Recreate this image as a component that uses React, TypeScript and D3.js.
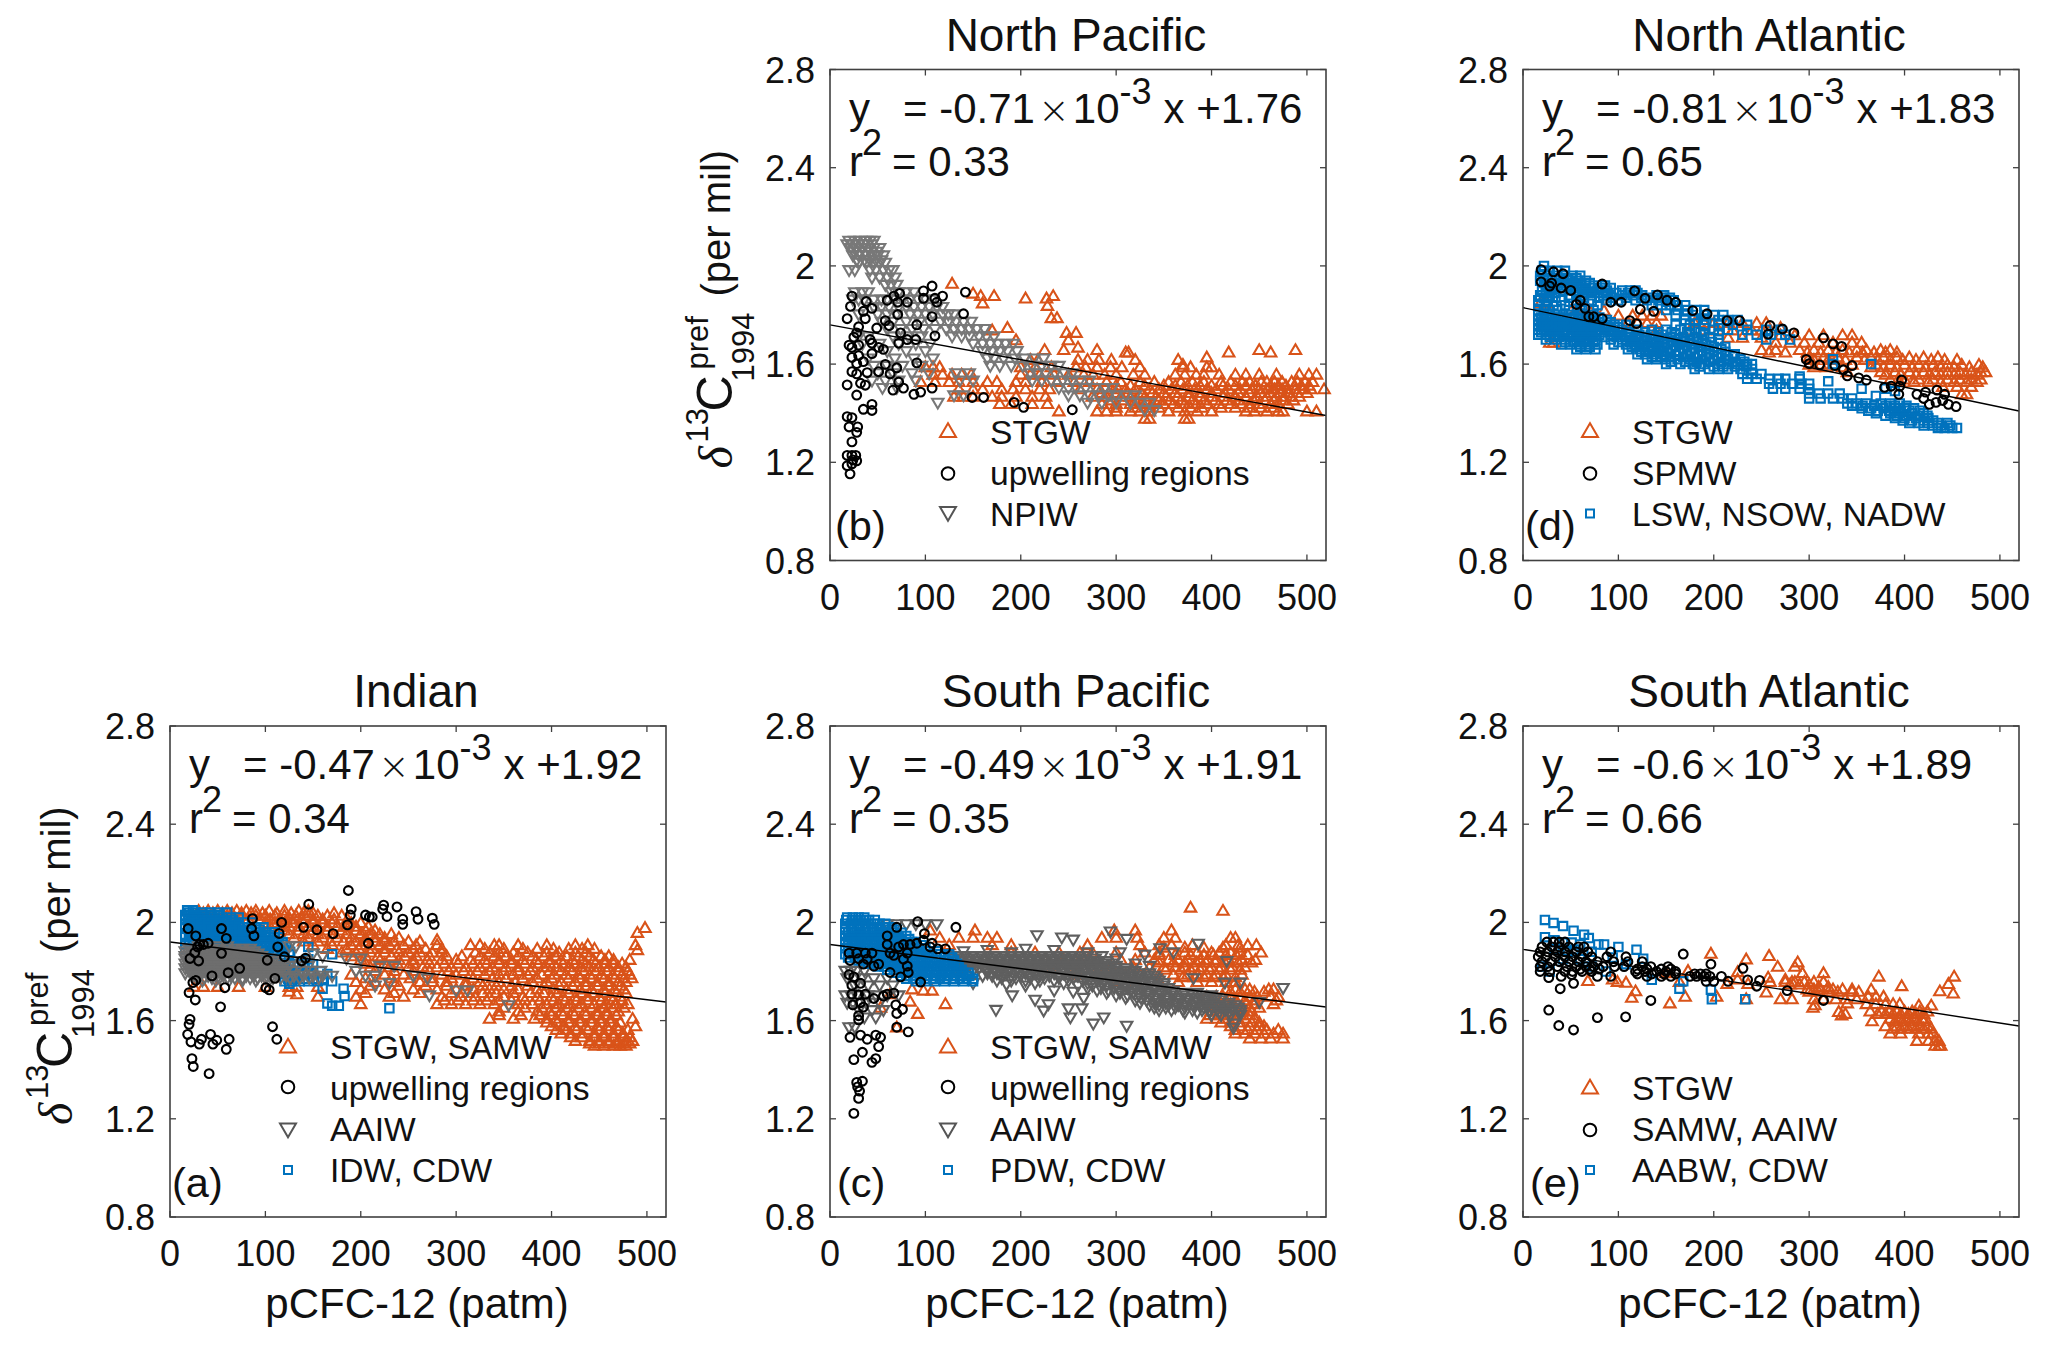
import React from "react";
import * as d3 from "d3";

type Row = [number, number[]];
type Pt = [number, number];

const xTicks = [0, 100, 200, 300, 400, 500];
const yTicks = [0.8, 1.2, 1.6, 2, 2.4, 2.8];

// ---------- (a) Indian ----------
const aStgwRows: Row[] = [
  [2.05, [30, 40, 50, 60, 70, 80, 90, 104, 120, 135, 145]],
  [2.04, [35, 45, 55, 65, 75, 85, 97, 112, 127, 140, 150, 172]],
  [2.03, [60, 75, 90, 100, 110, 120, 132, 145, 155, 165, 180]],
  [2.015, [70, 82, 95, 105, 115, 126, 138, 150, 160, 172, 186]],
  [2.0, [100, 110, 120, 130, 140, 150, 160, 170, 190, 200]],
  [1.985, [105, 115, 125, 135, 145, 155, 165, 175, 185, 195, 208]],
  [1.97, [120, 135, 150, 165, 180, 195, 205, 215]],
  [1.955, [125, 140, 155, 170, 185, 200, 210, 220, 232]],
  [1.94, [130, 145, 160, 175, 190, 205, 215, 225, 240]],
  [1.925, [140, 155, 168, 182, 195, 205, 215, 225, 235, 250, 262]],
  [1.91, [150, 170, 190, 200, 210, 220, 230, 245, 258, 280, 315, 325, 340, 345, 365, 395, 425, 438]],
  [1.895, [165, 185, 198, 212, 225, 238, 255, 268, 285, 330, 350, 370, 385, 402, 418, 432, 445]],
  [1.88, [180, 195, 210, 225, 240, 250, 262, 275, 285, 320, 335, 345, 360, 375, 395, 408, 425, 436]],
  [1.865, [190, 205, 218, 232, 246, 258, 272, 290, 306, 325, 340, 352, 365, 380, 392, 404, 416, 428, 440, 452, 460]],
  [1.85, [200, 220, 240, 255, 270, 285, 300, 315, 330, 345, 358, 370, 384, 398, 410, 422, 432, 444, 456, 465]],
  [1.835, [205, 225, 238, 255, 272, 288, 302, 318, 332, 345, 358, 372, 386, 398, 412, 424, 436, 446, 456, 465, 474]],
  [1.82, [210, 230, 250, 265, 280, 295, 310, 325, 338, 352, 365, 380, 392, 405, 418, 430, 440, 450, 460, 470, 478]],
  [1.805, [215, 235, 255, 272, 292, 308, 322, 335, 350, 365, 378, 398, 410, 422, 434, 446, 458, 470, 480]],
  [1.79, [190, 225, 245, 265, 285, 300, 315, 330, 345, 360, 375, 390, 403, 415, 428, 440, 452, 464, 474, 482]],
  [1.775, [205, 232, 252, 275, 295, 318, 338, 352, 370, 385, 400, 418, 430, 442, 455, 466, 476, 484]],
  [1.76, [195, 215, 235, 262, 275, 290, 310, 325, 345, 362, 380, 395, 410, 425, 436, 448, 460, 470, 478]],
  [1.745, [210, 240, 268, 290, 310, 328, 342, 358, 375, 392, 408, 422, 436, 448, 460, 472]],
  [1.74, [25, 35, 50, 72, 100, 125, 133, 155]],
  [1.73, [200, 225, 255, 280, 300, 318, 335, 350, 365, 385, 402, 416, 430, 442, 455, 466, 476]],
  [1.715, [205, 235, 262, 295, 312, 328, 342, 360, 378, 392, 406, 418, 432, 444, 456, 468, 478]],
  [1.7, [195, 230, 245, 285, 305, 320, 335, 350, 370, 385, 400, 412, 425, 438, 450, 462, 472]],
  [1.685, [288, 302, 318, 332, 345, 358, 372, 388, 402, 414, 426, 438, 452, 464, 474]],
  [1.67, [200, 280, 295, 310, 325, 340, 365, 380, 395, 408, 420, 432, 445, 458, 468, 480]],
  [1.655, [350, 372, 390, 404, 416, 428, 442, 454, 464, 476]],
  [1.64, [345, 365, 385, 398, 410, 422, 435, 448, 458, 470]],
  [1.625, [345, 368, 388, 400, 412, 424, 436, 448, 458, 468]],
  [1.61, [335, 360, 382, 395, 405, 418, 430, 442, 452, 462, 485]],
  [1.595, [395, 406, 418, 430, 442, 452, 462, 472]],
  [1.58, [400, 412, 425, 436, 448, 458, 468, 488]],
  [1.565, [405, 416, 426, 438, 450, 460, 470, 480]],
  [1.55, [410, 420, 432, 445, 455, 465, 475]],
  [1.535, [420, 432, 445, 455, 465, 475, 482]],
  [1.52, [425, 440, 450, 460, 470, 478, 485]],
  [1.51, [440, 450, 460, 468, 476, 482]],
  [1.5, [445, 455, 465, 472, 478]],
];
const aStgwPts: Pt[] = [[280, 1.93], [498, 1.98], [490, 1.96], [488, 1.91], [490, 1.89], [482, 1.85], [125, 1.72], [133, 1.71], [155, 1.7]];
const aDeepRows: Row[] = [
  [2.05, [18, 24]],
  [2.04, [20, 26, 34, 42, 50, 60]],
  [2.03, [16, 22, 28, 36, 44, 52]],
  [2.02, [19, 25, 31, 39, 47, 55, 64, 72]],
  [2.01, [16, 22, 28, 34, 40, 46, 52, 58, 66]],
  [2.0, [19, 28, 36, 44, 52, 60, 68, 78, 86]],
  [1.99, [16, 24, 32, 40, 48, 56, 64, 72]],
  [1.98, [16, 24, 32, 40, 48, 56, 64, 72, 82, 90, 98]],
  [1.97, [20, 28, 36, 44, 52, 60, 68, 76, 86, 94]],
  [1.96, [20, 28, 36, 44, 52, 60, 68, 76, 84, 92, 100, 110]],
  [1.95, [16, 24, 32, 40, 48, 56, 64, 72, 80, 88, 96, 104]],
  [1.94, [16, 24, 32, 40, 48, 56, 64, 72, 80, 88, 96, 104, 114]],
  [1.93, [20, 28, 36, 44, 52, 60, 68, 76, 84, 92, 100, 108]],
  [1.92, [20, 28, 36, 44, 52, 60, 68, 76, 84, 92, 100, 108, 118]],
  [1.91, [16, 24, 32, 40, 48, 56, 64, 72, 80, 88, 96, 104, 112, 118]],
  [1.9, [40, 48, 56, 64, 72, 80, 88, 96, 104, 112, 122]],
  [1.89, [16, 24, 32, 64, 72, 80, 88, 96, 104, 112, 120]],
  [1.88, [76, 84, 92, 100, 108, 116, 126]],
  [1.87, [60, 70, 80, 90, 100, 110, 118, 125]],
  [1.85, [70, 80, 90, 100, 110, 120]],
  [1.83, [120, 130, 140, 150]],
  [1.82, [115, 125, 135, 145]],
  [1.8, [125, 135, 148, 158]],
  [1.79, [120, 130, 140, 150, 165]],
  [1.77, [124, 132, 140, 150, 160]],
  [1.76, [120, 128, 136, 145, 155, 170]],
];
const aDeepPts: Pt[] = [[160, 1.73], [165, 1.67], [170, 1.66], [177, 1.66], [183, 1.7], [182, 1.73], [230, 1.65], [170, 1.87], [145, 1.9], [145, 1.85], [130, 1.78], [125, 1.75]];
const aAaiwRows: Row[] = [
  [1.9, [30, 40, 50, 60, 125, 132]],
  [1.89, [20, 28, 36, 44, 52, 60, 68, 76, 84]],
  [1.88, [16, 24, 32, 40, 48, 56, 64, 72, 80, 88]],
  [1.87, [20, 28, 36, 44, 52, 60, 68, 76, 84, 92]],
  [1.86, [16, 24, 32, 40, 48, 56, 64, 72, 80, 88, 96]],
  [1.85, [16, 24, 32, 40, 48, 56, 64, 72, 80, 88, 96, 104]],
  [1.84, [20, 28, 36, 44, 52, 60, 68, 76, 84, 92, 100, 108, 128, 138]],
  [1.83, [16, 24, 32, 40, 48, 56, 64, 72, 80, 88, 96, 104, 112]],
  [1.82, [20, 28, 36, 44, 52, 60, 68, 76, 84, 92, 100, 108, 116, 125, 135, 145]],
  [1.81, [16, 24, 32, 40, 48, 56, 64, 72, 80, 88, 96, 104, 112, 118]],
  [1.8, [20, 28, 36, 44, 52, 60, 68, 76, 84, 92, 100, 108, 116, 120, 128, 138, 148, 158]],
  [1.79, [16, 24, 32, 40, 48, 56, 64, 72, 80, 88, 96, 104, 112, 120]],
  [1.78, [24, 32, 40, 48, 56, 64, 72, 80, 88, 96, 104, 112, 122, 130, 140, 150, 160, 170]],
  [1.77, [28, 36, 44, 52, 60, 68, 76, 84, 92, 100, 108, 116, 126, 136, 146, 156]],
  [1.76, [34, 48, 62, 76, 90, 104]],
];
const aAaiwPts: Pt[] = [[150, 1.87], [160, 1.86], [185, 1.85], [200, 1.85], [195, 1.8], [205, 1.78], [215, 1.78], [220, 1.82], [235, 1.82], [230, 1.75], [215, 1.74], [255, 1.78], [270, 1.77], [272, 1.7], [300, 1.72], [312, 1.72], [355, 1.66]];
const aUpwellPts: Pt[] = [[19, 1.975], [27, 1.945], [54, 1.975], [59, 1.935], [86.5, 2.015], [85.5, 1.975], [88, 1.945], [117, 2], [114.5, 1.955], [113, 1.9], [120, 1.86], [102, 1.846], [140, 1.98], [154, 1.97], [171, 1.954], [186, 1.99], [208, 1.915], [138, 1.843], [142, 1.854], [145.5, 2.074], [187, 2.13], [190, 2.054], [189, 2.03], [205, 2.03], [209, 2.022], [212, 2.022], [224, 2.07], [223, 2.054], [227.5, 2.024], [238, 2.063], [244, 2.013], [244, 1.992], [258, 2.044], [260, 2.013], [275, 2.017], [277, 1.992], [31, 1.91], [40, 1.915], [35, 1.91], [29, 1.9], [54, 1.874], [26, 1.877], [30, 1.843], [21, 1.853], [73, 1.813], [61, 1.795], [44, 1.782], [110, 1.772], [57.5, 1.734], [27, 1.764], [24, 1.755], [100.5, 1.734], [104, 1.725], [20, 1.714], [26.5, 1.684], [53, 1.656], [107.5, 1.575], [112, 1.524], [21, 1.605], [20, 1.585], [18.5, 1.544], [22, 1.513], [30.7, 1.504], [33, 1.524], [42.5, 1.544], [49, 1.52], [45, 1.504], [62, 1.524], [59, 1.483], [23, 1.445], [24.4, 1.413], [41, 1.384]];

// ---------- (b) North Pacific ----------
const bStgwRows: Row[] = [
  [1.62, [210, 218, 260, 270, 282, 295]],
  [1.59, [100, 108, 115, 200, 215, 232, 258, 268, 280, 294, 306, 325, 370, 378, 395, 400]],
  [1.56, [108, 118, 128, 138, 148, 200, 210, 220, 235, 250, 266, 276, 288, 300, 318, 330, 362, 372, 384, 392, 408, 425, 436, 450, 468, 492, 502, 510]],
  [1.53, [95, 110, 125, 135, 150, 165, 175, 195, 205, 222, 238, 256, 272, 290, 305, 325, 340, 355, 368, 380, 392, 410, 420, 432, 440, 452, 458, 466, 474, 484, 490, 498, 506]],
  [1.515, [300, 315, 330, 350, 362, 375, 388, 400, 412, 425, 436, 446, 462, 470, 478, 487, 494, 502]],
  [1.5, [135, 150, 160, 180, 192, 205, 220, 230, 262, 280, 295, 310, 320, 335, 345, 358, 370, 382, 395, 405, 418, 430, 442, 450, 458, 466, 474, 480, 488, 496, 504, 518]],
  [1.485, [285, 300, 312, 326, 338, 350, 362, 376, 388, 400, 414, 428, 440, 452, 462, 472, 480, 490, 500]],
  [1.47, [130, 140, 150, 170, 180, 195, 212, 226, 275, 290, 305, 315, 330, 342, 352, 364, 376, 388, 400, 412, 424, 436, 448, 458, 468, 476, 484, 492]],
  [1.455, [295, 308, 320, 332, 345, 356, 368, 380, 392, 404, 416, 428, 444, 456, 465, 475, 486]],
  [1.44, [178, 190, 212, 228, 285, 300, 315, 326, 338, 350, 360, 372, 384, 396, 408, 420, 432, 440, 450, 462, 470, 480]],
  [1.425, [300, 320, 335, 345, 365, 378, 390, 410, 425, 440, 452, 465]],
  [1.41, [240, 280, 290, 300, 315, 325, 335, 355, 372, 385, 400, 436, 445, 458, 470, 475, 500, 510]],
  [1.38, [330, 335, 372, 376]],
];
const bStgwPts: Pt[] = [[128, 1.93], [150, 1.89], [158, 1.88], [160, 1.85], [172, 1.88], [205, 1.87], [227, 1.87], [234, 1.88], [228, 1.84], [232, 1.79], [238, 1.79], [248, 1.73], [258, 1.73], [250, 1.7], [260, 1.67], [170, 1.74], [186, 1.75], [195, 1.7], [225, 1.66], [245, 1.66], [280, 1.66], [310, 1.65], [313, 1.65], [320, 1.62], [365, 1.62], [370, 1.6], [395, 1.63], [418, 1.65], [450, 1.66], [462, 1.65], [488, 1.66]];
const bNpiwRows: Row[] = [
  [2.1, [20, 26, 32, 38, 42, 46]],
  [2.085, [18, 24, 30, 36, 44]],
  [2.07, [22, 28, 34, 40, 46, 52]],
  [2.055, [25, 31, 37, 43, 49]],
  [2.04, [24, 30, 38, 44, 50, 56]],
  [2.02, [28, 36, 42, 48, 54]],
  [2.01, [30, 38, 46, 52, 58]],
  [1.98, [20, 26, 42, 48, 56, 62, 66]],
  [1.95, [44, 52, 60, 68]],
  [1.92, [58, 64, 70]],
  [1.89, [26, 34, 40, 64, 72, 80, 88]],
  [1.86, [24, 30, 36, 46, 54, 60, 68, 76, 84, 92, 100, 108]],
  [1.83, [46, 54, 62, 72, 80, 88, 96, 104, 112, 118]],
  [1.8, [30, 50, 60, 70, 84, 92, 100, 108, 118, 124, 130]],
  [1.77, [54, 66, 80, 94, 104, 116, 124, 132, 140, 148]],
  [1.74, [60, 74, 86, 98, 110, 122, 130, 138, 146, 154, 162]],
  [1.71, [30, 40, 66, 82, 96, 128, 138, 146, 156, 164, 172]],
  [1.68, [34, 52, 72, 90, 105, 150, 160, 168, 176, 184, 192]],
  [1.65, [60, 80, 100, 160, 170, 178, 186, 196]],
  [1.62, [40, 68, 88, 108, 165, 172, 182, 194, 204, 214, 224]],
  [1.59, [46, 60, 76, 96, 168, 178, 190, 202, 212, 222, 232, 240]],
  [1.56, [50, 66, 86, 104, 132, 146, 210, 218, 226, 236, 246, 254]],
  [1.53, [44, 58, 72, 90, 136, 150, 212, 222, 232, 244, 254, 262, 272]],
  [1.5, [55, 70, 240, 250, 258, 268, 278, 288, 296]],
  [1.47, [130, 140, 250, 262, 272, 282, 292, 300, 310, 320]],
  [1.44, [113, 270, 285, 300, 315, 325, 335]],
  [1.41, [330, 340]],
];
const bUpwellPts: Pt[] = [[18, 1.785], [23, 1.877], [21.5, 1.835], [38, 1.855], [35, 1.815], [44, 1.827], [37, 1.785], [30, 1.752], [28, 1.727], [25, 1.71], [20, 1.677], [23, 1.668], [30, 1.677], [42, 1.7], [49, 1.747], [58, 1.777], [62, 1.757], [44, 1.685], [51, 1.668], [56, 1.66], [44, 1.643], [30, 1.635], [23, 1.627], [35, 1.61], [28, 1.602], [23, 1.569], [28, 1.56], [39, 1.565], [51, 1.569], [58, 1.599], [18, 1.515], [32, 1.522], [37, 1.514], [28, 1.474], [35, 1.416], [44, 1.411], [44, 1.436], [18, 1.386], [23, 1.382], [20, 1.344], [29, 1.344], [28, 1.322], [23, 1.283], [18, 1.228], [23, 1.228], [27, 1.228], [24, 1.21], [28, 1.206], [23, 1.194], [18, 1.186], [21, 1.153], [60, 1.86], [67, 1.877], [73, 1.888], [81, 1.852], [71, 1.852], [71, 1.802], [74, 1.727], [72, 1.685], [81, 1.7], [91, 1.76], [90, 1.7], [91, 1.605], [70, 1.585], [63, 1.56], [72, 1.527], [77, 1.502], [66, 1.494], [88, 1.477], [95, 1.486], [107, 1.502], [98, 1.898], [107, 1.918], [98, 1.868], [110, 1.868], [118, 1.877], [112, 1.852], [107, 1.793], [110, 1.715], [142, 1.893], [140, 1.805], [149, 1.464], [161, 1.464], [193, 1.444], [203, 1.424], [254, 1.414]];

// ---------- (c) South Pacific ----------
const cStgwRows: Row[] = [
  [1.97, [152, 298, 320, 358]],
  [1.94, [115, 135, 150, 165, 175, 285, 300, 322, 350, 362, 420, 425]],
  [1.91, [125, 170, 190, 270, 325, 345, 358, 380, 415, 428, 438, 447]],
  [1.9, [350, 372, 392, 412, 430]],
  [1.88, [190, 215, 240, 262, 275, 300, 330, 345, 372, 385, 400, 408, 420, 430, 452]],
  [1.87, [345, 362, 378, 392, 402, 415, 426, 438]],
  [1.85, [225, 245, 262, 280, 305, 320, 340, 355, 365, 375, 388, 396, 405, 418, 432, 446]],
  [1.84, [345, 360, 372, 384, 394, 404, 414, 428, 442]],
  [1.82, [230, 255, 275, 295, 318, 335, 350, 362, 372, 382, 390, 400, 410, 422, 435]],
  [1.81, [352, 368, 378, 388, 398, 408, 420, 430]],
  [1.79, [260, 285, 310, 325, 345, 360, 375, 385, 395, 405, 415, 432]],
  [1.78, [370, 382, 392, 402, 412, 425]],
  [1.76, [300, 320, 345, 365, 385, 400, 415, 425]],
  [1.73, [415, 425, 435, 440, 460, 465]],
  [1.72, [420, 430, 445, 455]],
  [1.7, [395, 405, 412, 420, 430, 440, 448, 462, 470]],
  [1.685, [400, 415, 425, 435, 445, 468]],
  [1.67, [400, 410, 420, 428, 436, 445, 465]],
  [1.655, [404, 414, 424, 432, 440, 450]],
  [1.64, [400, 408, 418, 426, 434, 442]],
  [1.625, [398, 410, 420, 430, 440]],
  [1.61, [395, 405, 415, 425, 435, 445]],
  [1.595, [410, 420, 430, 442, 450]],
  [1.58, [420, 430, 440, 450, 455]],
  [1.565, [425, 438, 448, 458, 470]],
  [1.55, [425, 435, 445, 455, 465, 475]],
  [1.53, [440, 452, 462, 475]],
];
const cStgwPts: Pt[] = [[378, 2.063], [412, 2.05], [105, 1.97], [121, 1.67], [92, 1.63], [84, 1.68], [70, 1.575], [98, 1.725], [107, 1.725], [53, 1.655], [63, 1.71], [86, 1.73]];
const cAaiwRows: Row[] = [
  [1.99, [60, 70, 80, 90, 100, 112]],
  [1.86, [126, 134, 142, 150, 158, 166, 174, 182, 190, 198, 206, 214, 222, 230, 238, 246, 254, 262, 270]],
  [1.85, [130, 138, 146, 154, 162, 170, 178, 186, 194, 202, 210, 218, 226, 234, 242, 250, 258, 266, 278]],
  [1.84, [130, 138, 146, 154, 162, 170, 178, 186, 194, 202, 210, 218, 226, 234, 242, 250, 258, 266, 274, 282, 290]],
  [1.83, [134, 142, 150, 158, 166, 174, 182, 190, 198, 206, 214, 222, 230, 238, 246, 254, 262, 270, 278, 286, 296]],
  [1.82, [130, 138, 146, 154, 162, 170, 178, 186, 194, 202, 210, 218, 226, 234, 242, 250, 258, 266, 274, 282, 290, 300]],
  [1.81, [140, 148, 156, 164, 172, 180, 188, 196, 204, 212, 220, 228, 236, 244, 252, 260, 268, 276, 284, 292, 300, 310]],
  [1.8, [135, 150, 165, 172, 180, 188, 196, 204, 212, 220, 228, 236, 244, 252, 260, 268, 276, 284, 292, 300, 310, 320]],
  [1.79, [165, 175, 185, 195, 205, 215, 225, 235, 245, 255, 265, 275, 283, 291, 299, 307, 315, 323, 335]],
  [1.78, [160, 170, 180, 190, 200, 210, 220, 230, 240, 250, 260, 270, 278, 286, 294, 302, 310, 318, 326, 334, 340]],
  [1.77, [180, 195, 210, 225, 240, 255, 270, 284, 292, 300, 308, 316, 324, 332, 342]],
  [1.76, [175, 190, 205, 220, 235, 250, 265, 280, 288, 296, 304, 312, 320, 328, 336, 345]],
  [1.75, [215, 245, 270, 285, 295, 305, 315, 325, 335, 350]],
  [1.8, [16, 22, 28, 36]],
  [1.77, [18, 26, 34, 46, 60]],
  [1.74, [26, 40, 52, 66, 260, 275, 290, 300, 310, 320, 330, 340, 350]],
  [1.73, [270, 284, 298, 312, 326, 340, 355]],
  [1.72, [280, 292, 304, 316, 328, 340, 350, 360]],
  [1.71, [290, 304, 318, 332, 346, 358, 372, 385]],
  [1.7, [16, 22, 28, 40, 48, 60, 72, 300, 312, 324, 336, 348, 360, 370, 380, 390, 400]],
  [1.69, [310, 326, 340, 352, 364, 374, 384, 395, 405]],
  [1.68, [320, 332, 344, 356, 368, 376, 384, 392, 400, 410]],
  [1.67, [18, 24, 30, 38, 52, 325, 340, 352, 362, 372, 382, 392, 402, 418]],
  [1.66, [335, 345, 355, 365, 373, 381, 389, 397, 405, 415, 425]],
  [1.65, [340, 352, 362, 372, 382, 392, 400, 410, 418, 428]],
  [1.64, [30, 44, 56, 345, 358, 370, 380, 390, 398, 406, 414, 422, 430]],
  [1.63, [372, 385, 398, 408, 418, 430]],
  [1.62, [400, 410, 420, 430]],
  [1.61, [36, 48]],
  [1.57, [20, 26]],
];
const cAaiwPts: Pt[] = [[217, 1.945], [243, 1.936], [255, 1.927], [311, 1.93], [294, 1.96], [386, 1.91], [346, 1.892], [360, 1.875], [304, 1.875], [330, 1.866], [381, 1.77], [416, 1.84], [414, 1.752], [430, 1.752], [475, 1.73], [450, 1.673], [311, 1.576], [276, 1.585], [287, 1.61], [252, 1.61], [250, 1.647], [224, 1.638], [229, 1.664], [174, 1.641], [191, 1.7], [215, 1.682], [264, 1.647], [266, 1.69], [423, 1.585], [423, 1.568], [140, 1.88], [165, 1.885], [190, 1.875], [205, 1.89], [235, 1.885], [270, 1.875], [285, 1.86], [300, 1.85], [320, 1.83], [335, 1.82], [150, 1.75], [185, 1.745], [205, 1.74], [235, 1.72], [255, 1.715]];
const cDeepRows: Row[] = [
  [2.02, [18, 24, 30, 36]],
  [2.01, [17, 23, 29, 35, 41, 47]],
  [1.995, [16, 22, 28, 34, 40, 46, 52, 58]],
  [1.98, [16, 22, 30, 37, 44, 51, 58, 65]],
  [1.97, [16, 23, 30, 37, 44, 51, 58, 65, 70]],
  [1.958, [19, 26, 33, 40, 47, 54, 61, 68, 75]],
  [1.945, [16, 23, 30, 37, 44, 51, 58, 65, 72, 80]],
  [1.932, [19, 26, 33, 40, 47, 54, 61, 68, 75, 83]],
  [1.92, [16, 23, 30, 37, 44, 51, 58, 65, 72, 79, 86, 90]],
  [1.907, [19, 26, 33, 40, 47, 54, 61, 68, 75, 82, 89, 96]],
  [1.895, [16, 23, 30, 37, 44, 51, 58, 65, 72, 79, 86, 93, 100]],
  [1.882, [19, 26, 33, 40, 47, 54, 61, 68, 75, 82, 89, 96, 104, 112]],
  [1.87, [16, 23, 30, 37, 44, 51, 58, 65, 72, 79, 86, 93, 100, 107, 115, 125]],
  [1.857, [19, 26, 33, 40, 47, 54, 61, 68, 75, 82, 89, 96, 103, 111, 120, 128]],
  [1.845, [30, 37, 44, 51, 58, 65, 72, 79, 86, 93, 100, 107, 114, 122, 130]],
  [1.832, [40, 47, 54, 61, 68, 75, 82, 89, 96, 103, 110, 117, 125, 133]],
  [1.82, [50, 57, 64, 71, 78, 85, 92, 99, 106, 113, 120, 128, 135]],
  [1.807, [60, 67, 74, 81, 88, 95, 102, 109, 116, 123, 130, 138]],
  [1.795, [70, 77, 84, 91, 98, 105, 112, 119, 126, 133, 140, 145]],
  [1.782, [75, 82, 89, 96, 103, 110, 117, 124, 131, 138, 146]],
  [1.77, [80, 87, 94, 101, 108, 115, 122, 129, 136, 143, 150]],
  [1.76, [90, 100, 110, 120, 130, 140, 150]],
];
const cUpwellPts: Pt[] = [[92, 2.003], [132, 1.98], [70, 1.98], [60, 1.945], [99, 1.954], [98, 1.927], [91, 1.915], [84, 1.91], [107, 1.915], [113, 1.892], [121, 1.892], [105, 1.9], [60, 1.91], [63, 1.875], [72, 1.9], [77, 1.91], [81, 1.875], [67, 1.866], [77, 1.85], [81, 1.822], [82, 1.796], [74, 1.778], [63, 1.796], [95, 1.757], [20, 1.875], [28, 1.875], [37, 1.875], [44, 1.875], [21, 1.845], [30, 1.852], [39, 1.85], [46, 1.822], [51, 1.83], [35, 1.83], [20, 1.787], [25, 1.778], [32, 1.752], [23, 1.743], [30, 1.705], [37, 1.708], [46, 1.69], [32, 1.673], [24, 1.664], [23, 1.708], [35, 1.655], [30, 1.62], [30, 1.603], [56, 1.7], [60, 1.708], [67, 1.712], [76, 1.646], [70, 1.629], [69, 1.664], [70, 1.573], [82, 1.554], [21, 1.532], [32, 1.541], [39, 1.524], [48, 1.541], [53, 1.532], [51, 1.494], [34, 1.471], [25, 1.441], [48, 1.445], [44, 1.43], [34, 1.353], [28, 1.348], [29, 1.33], [31, 1.313], [30, 1.283], [25, 1.222]];

// ---------- (d) North Atlantic ----------
const dStgwRows: Row[] = [
  [1.85, [18, 25, 55]],
  [1.82, [55, 70, 85]],
  [1.8, [65, 100, 115, 125, 135, 145]],
  [1.77, [110, 120, 130, 140, 180, 190, 200, 215, 230, 245, 255]],
  [1.75, [270]],
  [1.74, [140, 175, 190, 205, 220, 240, 250]],
  [1.72, [270, 285, 300, 315, 335, 345]],
  [1.71, [215, 230, 250]],
  [1.69, [28, 32, 265, 280, 295, 310, 325, 345, 355]],
  [1.66, [250, 265, 290, 305, 320, 335, 350, 360, 375, 385]],
  [1.65, [258, 275, 298, 312, 328, 342, 356, 368, 380, 392]],
  [1.63, [300, 315, 330, 350, 365, 378, 392, 405, 420, 435]],
  [1.62, [305, 320, 338, 358, 372, 385, 398, 412, 428, 442, 455]],
  [1.6, [300, 312, 325, 345, 370, 385, 400, 415, 430, 445, 460, 478]],
  [1.59, [305, 318, 335, 365, 378, 392, 408, 422, 438, 452, 468, 482]],
  [1.57, [340, 375, 390, 405, 420, 432, 445, 458, 470, 480, 485]],
  [1.56, [380, 396, 412, 426, 438, 452, 464, 476]],
  [1.54, [385, 400, 415, 430, 445, 458, 470, 480]],
  [1.53, [395, 410, 425, 438, 452, 465, 476]],
  [1.51, [440, 455, 470]],
  [1.48, [460, 465]],
];
const dDeepRows: Row[] = [
  [2.0, [22]],
  [1.98, [20, 28, 36, 44]],
  [1.96, [18, 26, 34, 42, 52, 60]],
  [1.95, [22, 30, 38, 46, 56]],
  [1.94, [18, 26, 34, 42, 50, 58, 66]],
  [1.93, [22, 30, 40, 50, 60, 70]],
  [1.92, [24, 36, 46, 56, 66, 74, 86]],
  [1.91, [28, 40, 52, 62, 72, 82, 92]],
  [1.9, [20, 30, 42, 54, 66, 78, 88, 104, 112, 118]],
  [1.89, [24, 34, 56, 68, 78, 88, 98, 110, 120]],
  [1.88, [18, 28, 50, 62, 72, 84, 92, 104, 115, 125, 140, 148]],
  [1.87, [22, 34, 48, 64, 80, 94, 108, 124, 136, 146, 154]],
  [1.86, [16, 26, 40, 56, 72, 88, 100, 118, 130, 142, 150, 158]],
  [1.84, [16, 24, 32, 44, 60, 78, 135, 145, 155, 162, 170]],
  [1.82, [16, 22, 28, 36, 48, 62, 74, 150, 162, 172, 182, 190]],
  [1.8, [16, 22, 28, 34, 42, 50, 60, 72, 160, 170, 178, 190, 200, 210]],
  [1.79, [19, 25, 31, 38, 46, 54, 62, 70, 80]],
  [1.78, [16, 22, 28, 34, 42, 50, 58, 66, 76, 88, 170, 180, 192, 205, 215, 225]],
  [1.77, [19, 25, 31, 38, 46, 54, 62, 70, 80, 92]],
  [1.76, [16, 22, 28, 34, 42, 50, 58, 66, 76, 86, 96, 108, 160, 175, 190, 205, 220, 235]],
  [1.75, [19, 25, 31, 38, 46, 54, 62, 70, 80, 90, 100]],
  [1.74, [16, 22, 28, 34, 42, 52, 60, 68, 76, 86, 96, 104, 120, 135, 150, 165, 180, 200, 215, 235, 255, 270]],
  [1.73, [19, 28, 37, 47, 56, 64, 72, 82, 92, 100, 110, 128, 142, 156, 172, 186]],
  [1.72, [16, 24, 32, 42, 52, 62, 70, 80, 92, 102, 112, 122, 134, 146, 160, 175, 190, 205, 230, 245, 260, 275]],
  [1.71, [28, 38, 50, 60, 72, 86, 98, 108, 118, 130, 142, 155, 168, 182, 196]],
  [1.7, [24, 34, 44, 56, 66, 76, 92, 104, 114, 124, 136, 148, 162, 175, 188, 205, 255, 280]],
  [1.69, [44, 54, 64, 74, 100, 112, 122, 134, 146, 158, 170, 184, 198]],
  [1.68, [40, 50, 60, 70, 78, 95, 108, 118, 128, 140, 152, 165, 178, 192]],
  [1.67, [60, 70, 114, 126, 136, 148, 160, 172, 186, 200, 212]],
  [1.66, [56, 66, 76, 110, 122, 132, 142, 155, 168, 180, 195, 208]],
  [1.65, [124, 132, 142, 152, 164, 176, 188, 200, 212]],
  [1.64, [120, 128, 138, 148, 160, 172, 184, 196, 208, 222]],
  [1.63, [135, 145, 155, 168, 180, 192, 205, 220]],
  [1.62, [130, 140, 150, 162, 175, 188, 200, 215, 228]],
  [1.61, [155, 170, 182, 195, 208, 220, 232]],
  [1.6, [150, 165, 178, 190, 205, 215, 225, 235, 240]],
  [1.59, [185, 200, 210, 222, 234]],
  [1.58, [180, 195, 205, 215, 228, 240]],
  [1.56, [230, 240, 250]],
  [1.54, [235, 245, 258, 268, 275, 290]],
  [1.52, [258, 270, 282, 292, 300]],
  [1.5, [262, 275, 290, 300]],
  [1.48, [300, 310, 320, 332]],
  [1.46, [300, 312, 325, 335, 345]],
  [1.44, [340, 350, 360, 375, 385, 395]],
  [1.43, [345, 356, 368, 380, 390, 402]],
  [1.42, [355, 365, 378, 390, 400, 410]],
  [1.41, [362, 372, 384, 396, 405, 416]],
  [1.4, [370, 385, 395, 408, 420]],
  [1.39, [380, 392, 402, 414, 424]],
  [1.38, [390, 400, 412, 425]],
  [1.37, [398, 408, 420, 430]],
  [1.36, [405, 415, 425, 435, 445]],
  [1.35, [420, 430, 438, 448]],
  [1.34, [435, 442, 450, 455]],
];
const dDeepPts: Pt[] = [[365, 1.6], [325, 1.6], [320, 1.53], [355, 1.5], [370, 1.47], [380, 1.5], [390, 1.49], [290, 1.55], [325, 1.62]];
const dSpmwPts: Pt[] = [[19, 1.985], [19, 1.935], [32, 1.976], [42, 1.968], [28, 1.918], [40, 1.91], [56, 1.843], [65, 1.827], [69, 1.793], [83, 1.926], [92, 1.852], [103, 1.852], [117, 1.898], [128, 1.868], [141, 1.882], [151, 1.86], [160, 1.852], [123, 1.823], [137, 1.815], [112, 1.777], [119, 1.765], [74, 1.793], [83, 1.785], [178, 1.818], [193, 1.805], [214, 1.777], [227, 1.777], [257, 1.722], [259, 1.757], [272, 1.743], [284, 1.727], [315, 1.707], [325, 1.682], [334, 1.672], [297, 1.619], [300, 1.602], [311, 1.597], [327, 1.594], [336, 1.577], [340, 1.552], [345, 1.594], [352, 1.544], [360, 1.535], [379, 1.505], [386, 1.51], [397, 1.535], [395, 1.51], [394, 1.477], [413, 1.477], [422, 1.486], [420, 1.46], [426, 1.436], [434, 1.494], [433, 1.444], [442, 1.477], [440, 1.452], [446, 1.436], [454, 1.427], [30, 1.93], [50, 1.9], [60, 1.86]];

// ---------- (e) South Atlantic ----------
const eStgwRows: Row[] = [
  [1.76, [275, 285, 295, 305]],
  [1.75, [280, 290, 300]],
  [1.74, [310, 320]],
  [1.73, [298, 305, 312, 325, 335, 345]],
  [1.72, [300, 310, 320, 330, 345, 352]],
  [1.7, [362, 370, 378]],
  [1.69, [305, 315, 328, 338, 350]],
  [1.67, [360, 370, 380, 388, 395]],
  [1.64, [364, 376, 384, 392, 400, 408, 416, 424]],
  [1.63, [372, 380, 388, 396, 404, 412, 420]],
  [1.61, [385, 394, 402, 410, 418, 422]],
  [1.6, [390, 398, 406, 414, 420]],
  [1.58, [380, 392, 400, 408, 416, 424]],
  [1.57, [388, 396, 404, 412, 420, 428]],
  [1.55, [385, 396, 415, 425, 430]],
  [1.52, [413, 425, 432, 436]],
  [1.5, [432, 436, 438]],
];
const eStgwPts: Pt[] = [[452, 1.782], [446, 1.752], [451, 1.713], [437, 1.722], [428, 1.664], [415, 1.664], [397, 1.743], [373, 1.782], [365, 1.729], [315, 1.796], [315, 1.76], [288, 1.84], [285, 1.822], [293, 1.796], [267, 1.822], [258, 1.866], [234, 1.852], [197, 1.875], [225, 1.8], [257, 1.778], [259, 1.76], [275, 1.77], [282, 1.76], [114, 1.696], [118, 1.722], [154, 1.673], [170, 1.7], [203, 1.7], [68, 1.764], [270, 1.69], [282, 1.69], [234, 1.69], [255, 1.717], [94, 1.77], [99, 1.76], [108, 1.757], [150, 1.796], [164, 1.76], [173, 1.805], [214, 1.752], [225, 1.77], [236, 1.752], [304, 1.655], [306, 1.665], [334, 1.624], [338, 1.63], [331, 1.638], [340, 1.673], [366, 1.6]];
const eDeepPts: Pt[] = [[23, 2.01], [32, 1.998], [42, 1.985], [53, 1.966], [64, 1.95], [69, 1.936], [23, 1.94], [33, 1.927], [42, 1.918], [51, 1.918], [60, 1.91], [79, 1.91], [85, 1.91], [100, 1.9], [119, 1.889], [126, 1.852], [94, 1.857], [72, 1.88], [54, 1.89], [108, 1.83], [135, 1.766], [164, 1.73], [168, 1.76], [197, 1.726], [198, 1.687], [233, 1.687], [20, 1.82], [28, 1.8], [42, 1.85], [33, 1.89], [47, 1.88], [60, 1.85], [72, 1.82], [87, 1.8]];
const eSamwRows: Row[] = [
  [1.92, [25, 32, 38, 44]],
  [1.9, [20, 30, 38, 48, 58, 64]],
  [1.88, [18, 26, 36, 44, 56, 68, 92]],
  [1.86, [16, 24, 34, 44, 52, 62, 72, 88, 108]],
  [1.84, [20, 30, 38, 48, 58, 66, 78, 95, 110, 125]],
  [1.82, [18, 26, 36, 46, 56, 66, 74, 84, 96, 106, 125, 134, 152]],
  [1.81, [60, 70, 80, 120, 130, 145, 155]],
  [1.8, [18, 28, 44, 52, 62, 72, 118, 128, 140, 150, 160]],
  [1.79, [120, 135, 148, 160, 180, 186, 192]],
  [1.78, [78, 92, 130, 145, 155, 175, 182, 190, 196, 208]],
  [1.76, [192, 200, 215]],
];
const eSamwPts: Pt[] = [[27, 1.643], [37.5, 1.58], [53, 1.562], [78, 1.612], [107.6, 1.615], [134, 1.682], [168, 1.871], [197, 1.83], [230.6, 1.813], [235.5, 1.766], [248, 1.764], [245, 1.74], [277, 1.722], [315, 1.682], [39, 1.73], [27, 1.775], [53, 1.752], [40, 1.78], [51, 1.787]];

const ORANGE = "#D95319";
const BLUE = "#0072BD";
const GREY = "#6E6E6E";
const BLACK = "#000000";
const AXIS = "#404040";
const FONT = "'Liberation Sans', Arial, sans-serif";

type Kind = "up" | "down" | "circle" | "square";
const expand = (rows: Row[] = [], pts: Pt[] = []): Pt[] => [
  ...rows.flatMap(([y, xs]) => xs.map((x): Pt => [x, y])),
  ...pts,
];
const markerPath = (k: Kind, r: number): string => {
  if (k === "up") return `M${-r},${r * 0.82}L${r},${r * 0.82}L0,${-r * 0.9}Z`;
  if (k === "down") return `M${-r},${-r * 0.82}L${r},${-r * 0.82}L0,${r * 0.9}Z`;
  if (k === "square") return `M${-r},${-r}H${r}V${r}H${-r}Z`;
  return `M${-r},0A${r},${r} 0 1,1 ${r},0A${r},${r} 0 1,1 ${-r},0Z`;
};
const dataRadius: Record<Kind, number> = { up: 5.7, down: 5.7, circle: 4.4, square: 4.2 };
const legendRadius: Record<Kind, number> = { up: 8, down: 8, circle: 6.3, square: 4 };

type Series = { name: string; kind: Kind; color: string; pts: Pt[] };
type Panel = {
  title: string; tag: string; left: number; top: number; slope: string; slopeVal: number; b: number; r2: string;
  series: Series[]; legend: Series[]; yLabel: boolean; xLabel: boolean; legX: number; legTxt: number; tagX: number;
};
const TOP1 = 69.5, TOP2 = 726, L1 = 170, L2 = 830, L3 = 1523;

const S = (name: string, kind: Kind, color: string, pts: Pt[]): Series => ({ name, kind, color, pts });

const aS = S("STGW, SAMW", "up", ORANGE, expand(aStgwRows, aStgwPts));
const aU = S("upwelling regions", "circle", BLACK, aUpwellPts);
const aA = S("AAIW", "down", GREY, expand(aAaiwRows, aAaiwPts));
const aD = S("IDW, CDW", "square", BLUE, expand(aDeepRows, aDeepPts));
const bS = S("STGW", "up", ORANGE, expand(bStgwRows, bStgwPts));
const bU = S("upwelling regions", "circle", BLACK, bUpwellPts);
const bN = S("NPIW", "down", "#787878", expand(bNpiwRows));
const cS = S("STGW, SAMW", "up", ORANGE, expand(cStgwRows, cStgwPts));
const cU = S("upwelling regions", "circle", BLACK, cUpwellPts);
const cA = S("AAIW", "down", "#5F5F5F", expand(cAaiwRows, cAaiwPts));
const cD = S("PDW, CDW", "square", BLUE, expand(cDeepRows));
const dS = S("STGW", "up", ORANGE, expand(dStgwRows));
const dU = S("SPMW", "circle", BLACK, dSpmwPts);
const dD = S("LSW, NSOW, NADW", "square", BLUE, expand(dDeepRows, dDeepPts));
const eS = S("STGW", "up", ORANGE, expand(eStgwRows, eStgwPts));
const eU = S("SAMW, AAIW", "circle", BLACK, expand(eSamwRows, eSamwPts));
const eD = S("AABW, CDW", "square", BLUE, eDeepPts);

const panels: Panel[] = [
  { title: "Indian", tag: "(a)", left: L1, top: TOP2, slope: "-0.47", slopeVal: -0.47, b: 1.92, r2: "0.34", series: [aS, aD, aA, aU], legend: [aS, aU, aA, aD], yLabel: true, xLabel: true, legX: 118, legTxt: 160, tagX: 2 },
  { title: "North Pacific", tag: "(b)", left: L2, top: TOP1, slope: "-0.71", slopeVal: -0.71, b: 1.76, r2: "0.33", series: [bS, bN, bU], legend: [bS, bU, bN], yLabel: true, xLabel: false, legX: 118, legTxt: 160, tagX: 5 },
  { title: "South Pacific", tag: "(c)", left: L2, top: TOP2, slope: "-0.49", slopeVal: -0.49, b: 1.91, r2: "0.35", series: [cS, cA, cD, cU], legend: [cS, cU, cA, cD], yLabel: false, xLabel: true, legX: 118, legTxt: 160, tagX: 7 },
  { title: "North Atlantic", tag: "(d)", left: L3, top: TOP1, slope: "-0.81", slopeVal: -0.81, b: 1.83, r2: "0.65", series: [dS, dD, dU], legend: [dS, dU, dD], yLabel: false, xLabel: false, legX: 67, legTxt: 109, tagX: 2 },
  { title: "South Atlantic", tag: "(e)", left: L3, top: TOP2, slope: "-0.6", slopeVal: -0.6, b: 1.89, r2: "0.66", series: [eS, eD, eU], legend: [eS, eU, eD], yLabel: false, xLabel: true, legX: 67, legTxt: 109, tagX: 7 },
];

const W = 496, H = 491;
const baselines = [333, 374, 415, 456];
const markCenters = [320, 361, 404, 444];

function PanelView({ p }: { p: Panel }) {
  const x = d3.scaleLinear().domain([0, 520]).range([0, W]);
  const y = d3.scaleLinear().domain([0.8, 2.8]).range([H, 0]);
  const fit = d3.line<number>().x((v) => x(v)).y((v) => y(p.b + (p.slopeVal / 1000) * v));
  const first = 4 - p.legend.length;
  return (
    <g transform={`translate(${p.left},${p.top})`} fontFamily={FONT} fill="#111">
      <text x={W / 2 - 2} y={-19} fontSize={46} textAnchor="middle">{p.title}</text>
      {p.series.map((s) => (
        <g key={s.name} fill="none" stroke={s.color} strokeWidth={2.1}>
          {s.pts.map((d, i) => (
            <path key={i} d={markerPath(s.kind, dataRadius[s.kind])} transform={`translate(${x(d[0])},${y(d[1])})`} />
          ))}
        </g>
      ))}
      <path d={fit([0, 520]) || ""} stroke="#000" strokeWidth={1.4} fill="none" />
      <rect x={0} y={0} width={W} height={H} fill="none" stroke={AXIS} strokeWidth={1.6} />
      {xTicks.map((t) => (
        <g key={t} stroke={AXIS} strokeWidth={1.3}>
          <line x1={x(t)} x2={x(t)} y1={H} y2={H - 6} />
          <line x1={x(t)} x2={x(t)} y1={0} y2={6} />
        </g>
      ))}
      {yTicks.map((t) => (
        <g key={t} stroke={AXIS} strokeWidth={1.3}>
          <line x1={0} x2={6} y1={y(t)} y2={y(t)} />
          <line x1={W} x2={W - 6} y1={y(t)} y2={y(t)} />
        </g>
      ))}
      {xTicks.map((t) => (
        <text key={t} x={x(t)} y={H + 49} fontSize={36} textAnchor="middle">{t}</text>
      ))}
      {yTicks.map((t) => (
        <text key={t} x={-15} y={y(t) + 13} fontSize={36} textAnchor="end">{t}</text>
      ))}
      <text x={19} y={53} fontSize={42}>
        y
        <tspan dx={33}>{`= ${p.slope}`}</tspan>
        <tspan dx={3} fontSize={38} fontFamily="'DejaVu Sans'" fontWeight={200}>×</tspan>
        <tspan dx={3} fontFamily={FONT}>10</tspan>
        <tspan dy={-19} fontSize={36}>-3</tspan>
        <tspan dy={19} dx={12}>{`x +${p.b.toFixed(2)}`}</tspan>
      </text>
      <text x={19} y={106.5} fontSize={42}>
        r
        <tspan dy={-21} dx={-1} fontSize={36}>2</tspan>
        <tspan dy={21} dx={10}>{`= ${p.r2}`}</tspan>
      </text>
      {p.legend.map((s, i) => (
        <g key={s.name}>
          <path d={markerPath(s.kind, legendRadius[s.kind])} transform={`translate(${p.legX},${markCenters[i + first]})`} fill="none" stroke={s.kind === "down" ? "#555" : s.color} strokeWidth={2} />
          <text x={p.legTxt} y={baselines[i + first]} fontSize={33.6}>{s.name}</text>
        </g>
      ))}
      <text x={p.tagX} y={470.5} fontSize={41.5}>{p.tag}</text>
      {p.xLabel && <text x={W / 2 - 1} y={H + 101} fontSize={42} textAnchor="middle">pCFC-12 (patm)</text>}
      {p.yLabel && (
        <g>
          <text transform={`translate(-98,399) rotate(-90)`} fontSize={48} fontStyle="italic" fontFamily="'Liberation Serif', serif">δ</text>
          <text transform={`translate(-122,373) rotate(-90)`} fontSize={31}>13</text>
          <text transform={`translate(-98,342) rotate(-90)`} fontSize={50}>C</text>
          <text transform={`translate(-122,300) rotate(-90)`} fontSize={31}>pref</text>
          <text transform={`translate(-76,312) rotate(-90)`} fontSize={31}>1994</text>
          <text transform={`translate(-100,227) rotate(-90)`} fontSize={40}>(per mil)</text>
        </g>
      )}
    </g>
  );
}

export default function App() {
  return (
    <svg width={2067} height={1345} style={{ position: "absolute", left: 0, top: 0, background: "#fff" }}>
      {panels.map((p) => (
        <PanelView key={p.tag} p={p} />
      ))}
    </svg>
  );
}
